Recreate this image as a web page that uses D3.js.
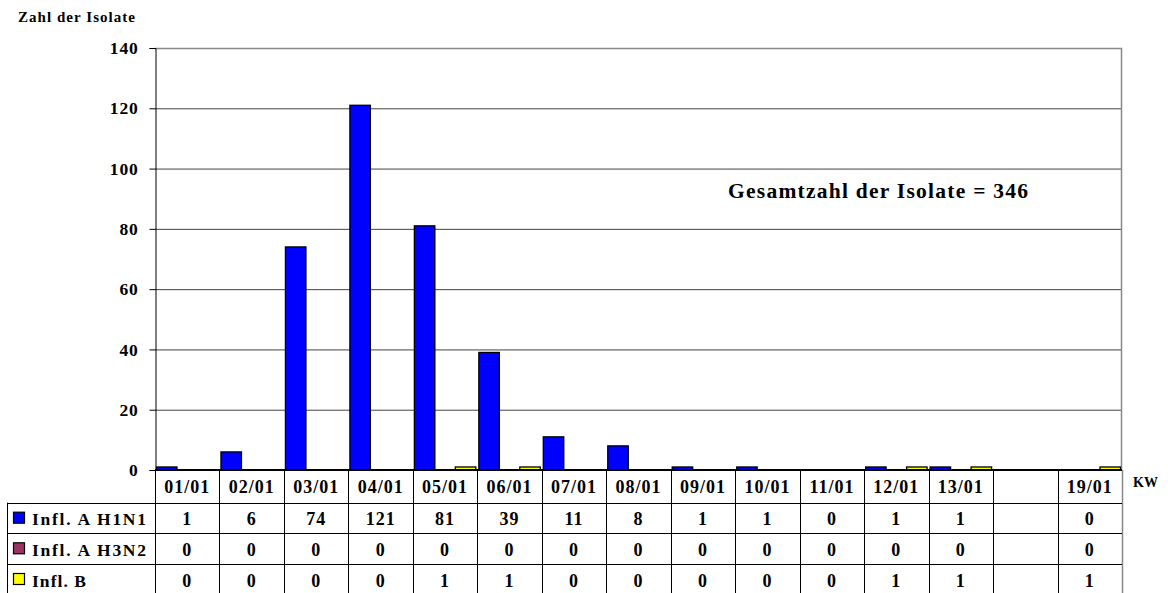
<!DOCTYPE html>
<html><head><meta charset="utf-8">
<script src="https://cdn.jsdelivr.net/npm/d3@7"></script>
<style>
body{margin:0;background:#fff;}
text{font-family:"Liberation Serif","Times New Roman",serif;font-weight:bold;fill:#000;}
</style></head>
<body><svg id="c" width="1168" height="593"></svg>
<script>
const categories = ["01/01","02/01","03/01","04/01","05/01","06/01","07/01","08/01","09/01","10/01","11/01","12/01","13/01","","19/01"];
const seriesNames = ["Infl. A H1N1","Infl. A H3N2","Infl. B"];
const seriesColors = ["#0000FF","#993366","#FFFF00"];
const h1n1 = [1,6,74,121,81,39,11,8,1,1,0,1,1,null,0];
const h3n2 = [0,0,0,0,0,0,0,0,0,0,0,0,0,null,0];
const inflB = [0,0,0,0,1,1,0,0,0,0,0,1,1,null,1];
const yTicks = [0,20,40,60,80,100,120,140];
const totalLabel = "Gesamtzahl der Isolate = 346";
const series = [h1n1,h3n2,inflB];

const svg = d3.select("#c");
const L = 155, R = 1122, T = 48, B = 470;
const x = d3.scaleBand().domain(categories.map((c,i)=>i)).range([L,R]).padding(0);
const xs = d3.scaleBand().domain([0,1,2]).range([1.5, x.bandwidth()-1.5]).padding(0);
const y = d3.scaleLinear().domain([0,140]).range([B,T]);

// gridlines
svg.append("g").selectAll("line").data(yTicks.filter(t=>t>0 && t<140)).join("line")
  .attr("x1",L).attr("x2",R).attr("y1",d=>y(d)+0.5).attr("y2",d=>y(d)+0.5)
  .attr("stroke","#444").attr("stroke-width",1);
// plot border (top/right)
svg.append("path").attr("d",`M${L},${T+0.5}H${R-0.5}V${B}`).attr("fill","none").attr("stroke","#888").attr("stroke-width",1.5);

// y axis
const yAxis = d3.axisLeft(y).tickValues(yTicks).tickSize(6).tickPadding(11);
const ga = svg.append("g").attr("transform",`translate(${L+0.5},0)`).call(yAxis);
ga.select(".domain").attr("stroke","#000");
ga.selectAll(".tick line").attr("stroke","#000");
ga.selectAll(".tick text").style("font-size","17.5px").style("letter-spacing","0.8px")
  .style("font-family","'Liberation Serif',serif").style("font-weight","bold").attr("fill","#000");

// bars
series.forEach((vals,si)=>{
  svg.append("g").selectAll("rect").data(vals.map((v,i)=>({v,i})).filter(d=>d.v>0)).join("rect")
    .attr("x",d=>x(d.i)+xs(si)).attr("width",xs.bandwidth())
    .attr("y",d=>y(d.v)).attr("height",d=>y(0)-y(d.v))
    .attr("fill",seriesColors[si]).attr("stroke","#000").attr("stroke-width",1.3);
});

// x axis line
svg.append("line").attr("x1",L).attr("x2",R).attr("y1",B).attr("y2",B).attr("stroke","#000").attr("stroke-width",2);

// data table
const rowTop = [470, 502.7, 533.3, 564];
const legendWidths = [114, 114, 54];
const tg = svg.append("g");
const bounds = categories.map((c,i)=>x(i)).concat([R]);
tg.selectAll(".hv").data(bounds).join("line").attr("class","hv")
  .attr("x1",d=>Math.round(d)+0.5).attr("x2",d=>Math.round(d)+0.5).attr("y1",B).attr("y2",600)
  .attr("stroke",(d,i)=>i===bounds.length-1?"#888":"#000").attr("stroke-width",(d,i)=>i===bounds.length-1?1.5:1);
tg.append("line").attr("x1",7.5).attr("x2",7.5).attr("y1",rowTop[1]).attr("y2",600).attr("stroke","#000");
tg.selectAll(".hh").data(rowTop.slice(1)).join("line").attr("class","hh")
  .attr("x1",7).attr("x2",R).attr("y1",d=>Math.round(d)+0.5).attr("y2",d=>Math.round(d)+0.5).attr("stroke","#000");
tg.selectAll(".hl").data(categories).join("text").attr("class","hl")
  .attr("x",(d,i)=>x(i)+x.bandwidth()/2).attr("y",493).attr("text-anchor","middle")
  .style("font-size","18px").style("letter-spacing","1px").text(d=>d);
series.forEach((vals,si)=>{
  tg.append("g").selectAll("text").data(vals.map((v,i)=>({v,i})).filter(d=>d.v!==null)).join("text")
    .attr("x",d=>x(d.i)+x.bandwidth()/2).attr("y",rowTop[si+1]+22.5).attr("text-anchor","middle")
    .style("font-size","18px").style("letter-spacing","1px").text(d=>d.v);
  tg.append("rect").attr("x",13.5).attr("y",rowTop[si+1]+9.5).attr("width",11).attr("height",11)
    .attr("fill",seriesColors[si]).attr("stroke","#000").attr("stroke-width",1.2);
  tg.append("text").attr("x",32).attr("y",rowTop[si+1]+22.5)
    .attr("textLength",legendWidths[si]).attr("lengthAdjust","spacing")
    .style("font-size","17.5px").text(seriesNames[si]);
});

// titles
svg.append("text").attr("x",18).attr("y",22).attr("textLength",117).attr("lengthAdjust","spacing")
  .style("font-size","15px").text("Zahl der Isolate");
svg.append("text").attr("x",1133).attr("y",487).attr("textLength",25).attr("lengthAdjust","spacing")
  .style("font-size","14px").text("KW");
svg.append("text").attr("x",728).attr("y",198).attr("textLength",300).attr("lengthAdjust","spacing")
  .style("font-size","21.5px").text(totalLabel);
</script></body></html>
